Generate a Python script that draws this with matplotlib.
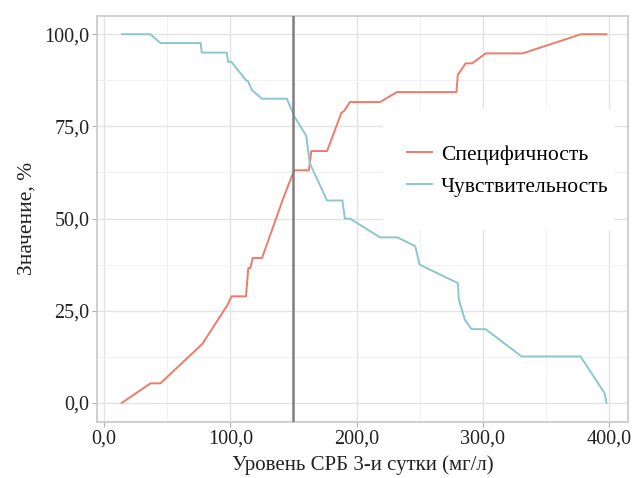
import matplotlib.pyplot as plt
from matplotlib.patches import Rectangle
from matplotlib.ticker import FuncFormatter, MultipleLocator

# curve data
spec_x = [14, 36.7, 44.6, 77.8, 97.8, 100.9, 112.4, 114.2, 115.8, 117.7, 125.1, 141.6, 150.5,
          162.2, 164.1, 176.6, 188.0, 190.2, 194.7, 218.6, 231.9, 279.1, 280.2, 281.5, 286.3,
          291.6, 302.2, 331.5, 377.9, 397.9]
spec_y = [0, 5.3, 5.3, 16.0, 26.6, 28.9, 28.9, 36.6, 36.6, 39.3, 39.3, 55.2, 63.1,
          63.1, 68.3, 68.3, 78.7, 79.2, 81.6, 81.6, 84.3, 84.3, 89.1, 89.6, 92.1,
          92.1, 94.8, 94.8, 100, 100]

sens_x = [14.1, 36.7, 44.6, 76.5, 77.3, 97.2, 98.2, 100.9, 112.4, 114.0, 116.9, 125.1, 144.8,
          150.8, 160.2, 162.8, 176.6, 188.8, 190.7, 194.7, 218.6, 232.3, 246.5, 249.9,
          280.2, 281.0, 285.7, 291.0, 302.2, 330.7, 377.4, 396.5, 397.9]
sens_y = [100, 100, 97.6, 97.6, 95.0, 95.0, 92.5, 92.5, 87.5, 87.3, 84.9, 82.5, 82.5,
          77.6, 72.4, 65.1, 54.9, 54.9, 50.0, 50.0, 44.9, 44.9, 42.5, 37.5,
          32.5, 28.0, 22.6, 20.0, 20.0, 12.6, 12.6, 2.6, 0]

cutoff = 150

plt.rcParams['font.family'] = ['Liberation Serif', 'DejaVu Serif']

fig = plt.figure(figsize=(6.35, 4.78), dpi=100)
ax = fig.add_axes([0.153, 0.117, 0.836, 0.850])

ax.plot(spec_x, spec_y, color='#EE7B6A', linewidth=1.4, label='Специфичность')
ax.plot(sens_x, sens_y, color='#8CC6CF', linewidth=1.4, label='Чувствительность')
ax.axvline(cutoff, color='#7f7f7f', linewidth=1.8, zorder=3)

ax.set_xlim(-5.5, 415)
ax.set_ylim(-5.2, 105)
ax.xaxis.set_major_locator(MultipleLocator(100))
ax.xaxis.set_minor_locator(MultipleLocator(50))
ax.yaxis.set_major_locator(MultipleLocator(25))
ax.yaxis.set_minor_locator(MultipleLocator(12.5))
fmt = FuncFormatter(lambda v, p: f'{v:.1f}'.replace('.', ','))
ax.xaxis.set_major_formatter(fmt)
ax.yaxis.set_major_formatter(fmt)

ax.grid(True, which='major', color='#e3e3e3', linewidth=1.0)
ax.grid(True, which='minor', color='#f1f1f1', linewidth=0.7)
ax.set_axisbelow(True)
for s in ax.spines.values():
    s.set_color('#c8c8c8')
    s.set_linewidth(1.2)
ax.tick_params(which='major', length=3.5, color='#b0b0b0', labelsize=14.5, labelcolor='#222222', pad=2)
ax.tick_params(which='minor', length=0)

ax.set_xlabel('Уровень СРБ 3-и сутки (мг/л)', fontsize=15, color='#222222', labelpad=5)
ax.set_ylabel('Значение, %', fontsize=15.5, color='#222222', labelpad=6)

# white legend background covering the grid
ax.add_patch(Rectangle((0.539, 0.473), 0.434, 0.298, transform=ax.transAxes,
                       facecolor='white', edgecolor='none', zorder=1.5))
leg = ax.legend(loc='center left', bbox_to_anchor=(0.584, 0.6185), fontsize=15.5, frameon=False,
                handlelength=1.17, handletextpad=0.4, borderpad=0, borderaxespad=0, labelspacing=0.55)

plt.savefig('out.png', dpi=100)
